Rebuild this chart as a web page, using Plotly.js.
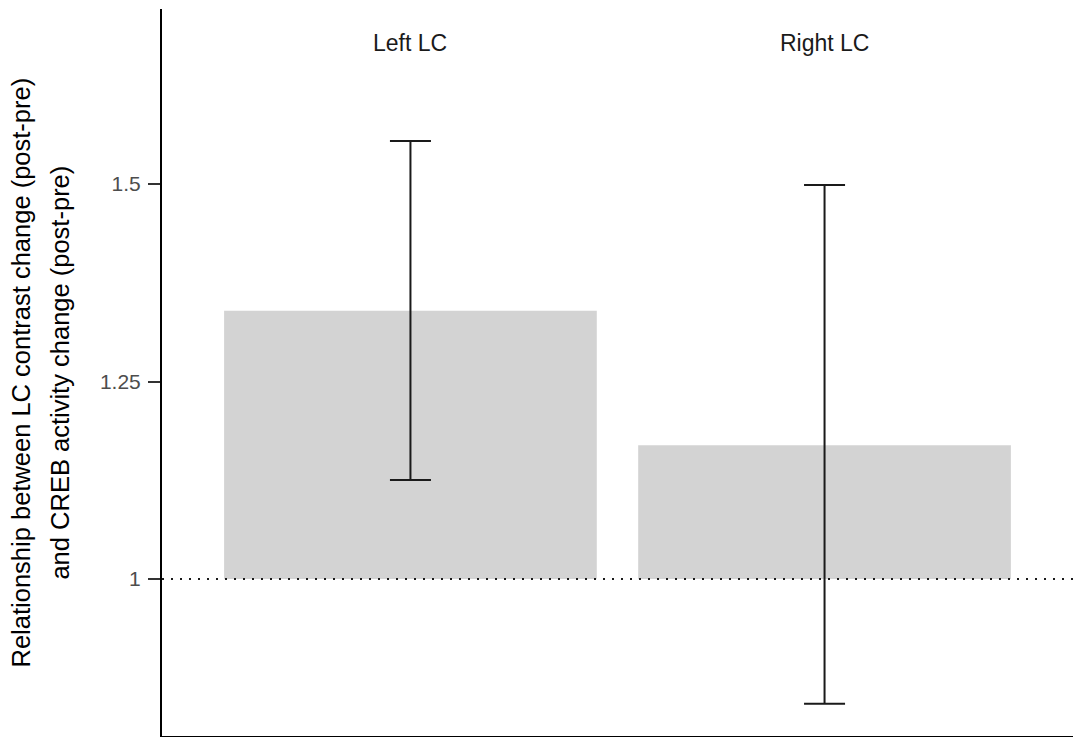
<!DOCTYPE html>
<html>
<head>
<meta charset="utf-8">
<script src="https://cdn.plot.ly/plotly-3.0.1.min.js"></script>
<style>html,body{margin:0;padding:0;background:#fff;}#chart{width:1076px;height:737px;}</style>
</head>
<body>
<div id="chart"></div>
<script>
// Data
const categories = ["Left LC", "Right LC"];
const estimates = [1.3396, 1.1692];
const upperCI = [1.5544, 1.4987];
const lowerCI = [1.1253, 0.8422];
const baseline = 1;
const yTickVals = [1, 1.25, 1.5];
const yTickText = ["1", "1.25", "1.5"];
const yTitleLines = ["Relationship between LC contrast change (post-pre)", "and CREB activity change (post-pre)"];

const FONT = "Liberation Sans, Arial, Helvetica, sans-serif";
const xIdx = categories.map((_, i) => i);

const barTrace = {
  type: "bar",
  x: xIdx,
  y: estimates.map(v => v - baseline),
  base: estimates.map(() => baseline),
  width: 0.9,
  marker: {color: "#d3d3d3", line: {width: 0}},
  hoverinfo: "skip",
  showlegend: false
};

const errTrace = {
  type: "scatter",
  mode: "markers",
  x: xIdx,
  y: estimates,
  marker: {size: 1, opacity: 0},
  error_y: {
    type: "data",
    symmetric: false,
    array: upperCI.map((u, i) => u - estimates[i]),
    arrayminus: lowerCI.map((l, i) => estimates[i] - l),
    color: "#1a1a1a",
    thickness: 2,
    width: 20.5
  },
  hoverinfo: "skip",
  showlegend: false
};

const annotations = categories.map((c, i) => ({
  x: i, xref: "x", y: 0.953, yref: "paper",
  text: c, showarrow: false, xanchor: "center", yanchor: "middle",
  font: {family: FONT, size: 23, color: "#1a1a1a"}
}));
const titleX = [-0.1548, -0.1130];
yTitleLines.forEach((t, i) => {
  annotations.push({
    x: titleX[i], xref: "paper", y: 0.5, yref: "paper",
    text: t, showarrow: false, textangle: -90,
    xanchor: "center", yanchor: "middle",
    font: {family: FONT, size: 25.5, color: "#000000"}
  });
});

const layout = {
  width: 1076, height: 737,
  margin: {l: 162, r: 3, t: 9, b: 1, pad: 0},
  paper_bgcolor: "#ffffff", plot_bgcolor: "#ffffff",
  font: {family: FONT},
  bargap: 0.1,
  xaxis: {
    range: [-0.6, 1.6],
    showgrid: false, zeroline: false,
    showline: true, linecolor: "#000000", linewidth: 2,
    ticks: "", showticklabels: false, fixedrange: true
  },
  yaxis: {
    range: [0.8013, 1.7215],
    showgrid: false, zeroline: false,
    showline: true, linecolor: "#000000", linewidth: 2,
    ticks: "outside", ticklen: 12, tickwidth: 2, tickcolor: "#333333",
    tickvals: yTickVals, ticktext: yTickText,
    ticklabelstandoff: 3,
    tickfont: {family: FONT, size: 21, color: "#4d4d4d"},
    fixedrange: true
  },
  shapes: [{
    type: "line", xref: "paper", x0: 0, x1: 1, yref: "y", y0: baseline, y1: baseline,
    line: {color: "#1a1a1a", width: 2, dash: "2px,7px"}, layer: "above"
  }],
  annotations: annotations
};

Plotly.newPlot("chart", [barTrace, errTrace], layout, {displayModeBar: false, staticPlot: true});
</script>
</body>
</html>
